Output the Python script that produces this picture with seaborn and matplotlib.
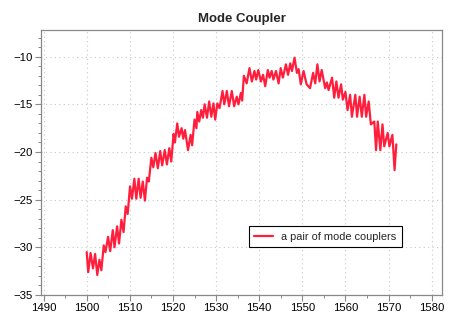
import matplotlib
matplotlib.use("Agg")
import matplotlib.pyplot as plt
import seaborn as sns
import pandas as pd
from matplotlib.ticker import MultipleLocator

wavelength = [
    1500.0, 1500.35, 1500.9, 1501.45, 1501.95, 1502.45, 1502.95, 1503.4, 1503.95, 1504.35,
    1504.95, 1505.45, 1506.05, 1506.45, 1507.05, 1507.5, 1508.05, 1508.55, 1509.05, 1509.5,
    1510.05, 1510.5, 1511.05, 1511.5, 1512.05, 1512.5, 1513.0, 1513.5, 1514.0, 1514.4,
    1515.0, 1515.45, 1515.95, 1516.5, 1517.05, 1517.5, 1518.1, 1518.6, 1519.15, 1519.6,
    1520.15, 1520.45, 1521.0, 1521.4, 1522.0, 1522.4, 1522.8, 1523.5, 1524.1, 1524.45,
    1525.0, 1525.45, 1525.65, 1526.1, 1526.55, 1526.95, 1527.35, 1527.9, 1528.4, 1528.9,
    1529.4, 1529.8, 1530.3, 1530.8, 1531.5, 1531.9, 1532.5, 1533.0, 1533.65, 1534.2,
    1534.8, 1535.2, 1535.75, 1536.05, 1536.45, 1537.1, 1537.75, 1538.3, 1538.9, 1539.3,
    1539.8, 1540.4, 1540.9, 1541.4, 1542.0, 1542.4, 1542.9, 1543.3, 1543.9, 1544.5,
    1545.0, 1545.5, 1546.2, 1546.7, 1547.2, 1547.6, 1548.2, 1548.75, 1549.15, 1549.65,
    1550.3, 1551.0, 1551.8, 1552.5, 1553.0, 1553.5, 1554.0, 1554.5, 1555.3, 1555.7,
    1556.1, 1556.9, 1557.4, 1557.9, 1558.4, 1559.0, 1559.4, 1560.0, 1560.5, 1561.1,
    1561.5, 1562.3, 1562.7, 1563.3, 1563.8, 1564.4, 1564.8, 1565.4, 1565.9, 1566.7,
    1567.1, 1567.5, 1568.1, 1568.6, 1569.0, 1569.8, 1570.2, 1570.9, 1571.4, 1571.8,
]
transmission = [
    -30.5, -32.6, -30.6, -32.2, -30.7, -32.9, -31.3, -32.4, -29.8, -30.5,
    -28.9, -30.4, -28.2, -30.0, -27.8, -29.6, -27.1, -28.4, -25.7, -26.5,
    -23.6, -24.9, -22.8, -24.9, -22.8, -24.8, -23.1, -25.1, -22.7, -23.1,
    -20.6, -21.6, -20.1, -21.7, -19.9, -21.4, -19.8, -21.3, -19.6, -21.0,
    -18.1, -19.0, -17.0, -18.4, -17.5, -18.6, -17.7, -19.8, -18.2, -19.3,
    -16.6, -17.5, -15.8, -16.8, -15.6, -16.4, -15.0, -16.4, -14.7, -16.3,
    -14.9, -16.6, -14.9, -15.4, -13.6, -15.0, -13.6, -15.2, -13.6, -15.2,
    -14.2, -15.0, -13.8, -14.6, -12.0, -12.8, -11.2, -12.6, -11.5, -12.4,
    -11.4, -12.6, -11.9, -13.1, -11.4, -12.2, -11.5, -12.4, -11.5, -12.8,
    -11.2, -12.2, -10.8, -11.9, -10.7, -11.5, -10.1, -11.7, -11.3, -12.9,
    -11.5, -12.9, -13.3, -11.7, -12.8, -10.8, -12.6, -11.4, -13.3, -12.7,
    -13.5, -12.2, -14.3, -12.6, -14.3, -12.9, -14.5, -13.7, -15.6, -14.0,
    -16.3, -14.0, -16.3, -14.2, -16.3, -14.0, -16.3, -14.7, -17.1, -16.8,
    -19.8, -16.8, -19.8, -17.1, -19.4, -18.0, -19.4, -18.2, -21.9, -19.2,
]
series_label = "a pair of mode couplers"
x_ticks = [1490, 1500, 1510, 1520, 1530, 1540, 1550, 1560, 1570, 1580]
y_ticks = [-35, -30, -25, -20, -15, -10]

sns.set_theme(style="ticks")
plt.rcParams["font.family"] = ["Liberation Sans", "DejaVu Sans"]

df = pd.DataFrame({"wavelength": wavelength, "transmission": transmission,
                   "series": series_label})

fig = plt.figure(figsize=(4.62, 3.32), dpi=100)
ax = fig.add_axes([41 / 462, 1 - 295 / 332, 401 / 462, 265 / 332])

sns.lineplot(data=df, x="wavelength", y="transmission", hue="series",
             palette=["#ff1f3d"], linewidth=1.6, ax=ax, sort=False,
             estimator=None)

ax.set_xlim(1489.4, 1582.4)
ax.set_ylim(-35, -7.2)
ax.set_xticks(x_ticks)
ax.set_yticks(y_ticks)
ax.set_yticklabels([f"\u2212{abs(v)}" for v in y_ticks])
ax.xaxis.set_minor_locator(MultipleLocator(5))
ax.yaxis.set_minor_locator(MultipleLocator(1))
ax.set_xlabel("")
ax.set_ylabel("")
ax.set_title("Mode Coupler", fontsize=9.5, fontweight="bold", pad=6)

ax.grid(True, which="major", linestyle=(0, (1, 3)), color="#c8c8c8", linewidth=0.8)
for s in ax.spines.values():
    s.set_visible(True)
    s.set_color("#888888")
    s.set_linewidth(0.9)
ax.tick_params(which="major", direction="out", length=4, width=0.8,
               color="#888888", labelsize=8.2, labelcolor="black", pad=2)
ax.tick_params(which="minor", direction="out", length=2.5, width=0.7,
               color="#888888")

leg = ax.legend(loc="lower left", bbox_to_anchor=(0.505, 0.16), fontsize=7.9,
                frameon=True, fancybox=False, framealpha=1, edgecolor="black",
                handlelength=1.7, borderpad=0.5, handletextpad=0.7)
leg.get_frame().set_linewidth(0.8)

fig.savefig("out.png", dpi=100)
